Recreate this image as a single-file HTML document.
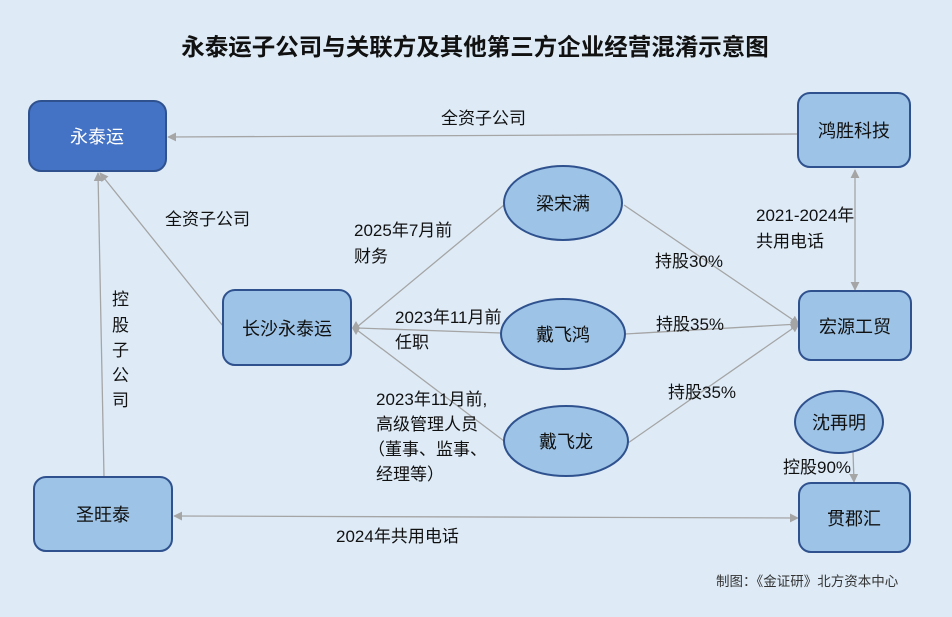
<!DOCTYPE html>
<html><head><meta charset="utf-8"><style>
html,body{margin:0;padding:0;background:#deebf7;}
svg{display:block;font-family:"Liberation Sans","Noto Sans CJK SC",sans-serif;}
</style></head><body>
<svg width="952" height="617" viewBox="0 0 952 617" xmlns="http://www.w3.org/2000/svg">
<defs>
<marker id="a" viewBox="0 0 10 10" refX="9" refY="5" markerWidth="9" markerHeight="9" orient="auto-start-reverse" markerUnits="userSpaceOnUse"><path d="M0,0 L10,5 L0,10 z" fill="#a5a5a5"/></marker>
</defs>
<rect width="952" height="617" fill="#deebf7"/>
<text x="475" y="55" text-anchor="middle" font-size="23.5" font-weight="bold" fill="#111">永泰运子公司与关联方及其他第三方企业经营混淆示意图</text>
<g stroke="#a5a5a5" stroke-width="1.3" fill="none">
<line x1="798" y1="134" x2="168" y2="137" marker-end="url(#a)"/>
<line x1="223" y1="326" x2="100" y2="173" marker-end="url(#a)"/>
<line x1="104" y1="477" x2="98" y2="173" marker-end="url(#a)"/>
<line x1="855" y1="170" x2="855" y2="290" marker-start="url(#a)" marker-end="url(#a)"/>
<line x1="853" y1="452" x2="854" y2="482" marker-end="url(#a)"/>
<line x1="174" y1="516" x2="798" y2="518" marker-start="url(#a)" marker-end="url(#a)"/>
<line x1="624" y1="205" x2="799" y2="324" marker-end="url(#a)"/>
<line x1="625" y1="334" x2="799" y2="324" marker-end="url(#a)"/>
<line x1="628" y1="443" x2="799" y2="324" marker-end="url(#a)"/>
<line x1="504" y1="205" x2="357" y2="327"/>
<line x1="501" y1="333" x2="357" y2="328"/>
<line x1="504" y1="441" x2="357" y2="330"/>
</g>
<path d="M352,328 L356,321 L360,328 L356,335 z" fill="#a5a5a5"/>
<g stroke="#2f528f" stroke-width="2">
<rect x="29" y="101" width="137" height="70" rx="12" fill="#4472c4"/>
<rect x="798" y="93" width="112" height="74" rx="12" fill="#9dc3e6"/>
<rect x="223" y="290" width="128" height="75" rx="12" fill="#9dc3e6"/>
<rect x="799" y="291" width="112" height="69" rx="12" fill="#9dc3e6"/>
<rect x="34" y="477" width="138" height="74" rx="12" fill="#9dc3e6"/>
<rect x="799" y="483" width="111" height="69" rx="12" fill="#9dc3e6"/>
<ellipse cx="563" cy="203" rx="59" ry="37" fill="#9dc3e6"/>
<ellipse cx="563" cy="334" rx="62" ry="35" fill="#9dc3e6"/>
<ellipse cx="566" cy="441" rx="62" ry="35" fill="#9dc3e6"/>
<ellipse cx="839" cy="422" rx="44" ry="31" fill="#9dc3e6"/>
</g>
<g font-size="18" fill="#111" text-anchor="middle">
<text x="97" y="143" fill="#fff">永泰运</text>
<text x="854" y="137">鸿胜科技</text>
<text x="287" y="335">长沙永泰运</text>
<text x="855" y="333">宏源工贸</text>
<text x="103" y="521">圣旺泰</text>
<text x="854" y="525">贯郡汇</text>
<text x="563" y="210">梁宋满</text>
<text x="563" y="341">戴飞鸿</text>
<text x="566" y="448">戴飞龙</text>
<text x="839" y="429">沈再明</text>
</g>
<g font-size="17" fill="#111">
<text x="441" y="124">全资子公司</text>
<text x="165" y="225">全资子公司</text>
<text x="354" y="236">2025年7月前</text>
<text x="354" y="262">财务</text>
<text x="395" y="323">2023年11月前</text>
<text x="395" y="348">任职</text>
<text x="376" y="405">2023年11月前,</text>
<text x="376" y="430">高级管理人员</text>
<text x="368" y="455">（董事、监事、</text>
<text x="376" y="480">经理等）</text>
<text x="655" y="267">持股30%</text>
<text x="656" y="330">持股35%</text>
<text x="668" y="398">持股35%</text>
<text x="756" y="221">2021-2024年</text>
<text x="756" y="247">共用电话</text>
<text x="783" y="473">控股90%</text>
<text x="336" y="542">2024年共用电话</text>
<text x="112" y="305">控</text>
<text x="112" y="331">股</text>
<text x="112" y="356">子</text>
<text x="112" y="381">公</text>
<text x="112" y="406">司</text>
</g>
<text x="716" y="586" font-size="13.5" fill="#333">制图：《金证研》北方资本中心</text>
</svg>
</body></html>
